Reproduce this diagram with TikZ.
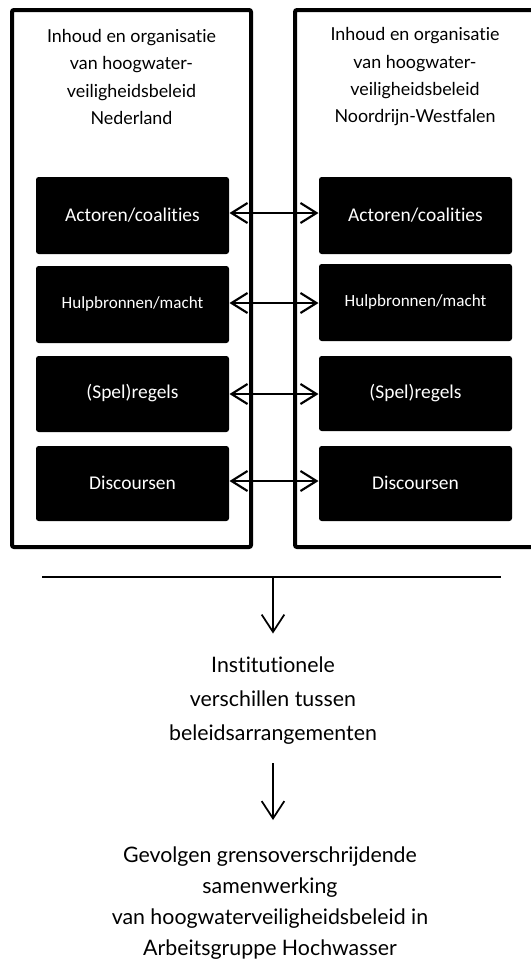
\documentclass[tikz,border=0pt]{standalone}
\usepackage{fontspec}
\setmainfont[Ligatures=NoCommon]{Lato}
\newfontfamily\boxfont[Ligatures=NoCommon]{Carlito}
\usetikzlibrary{arrows.meta}
\begin{document}
\begin{tikzpicture}[x=0.75pt,y=-0.75pt,
  outer/.style={draw=black,line width=3pt,rounded corners=1.5pt},
  blk/.style={fill=black,rounded corners=2pt,inner sep=0pt},
  blktext/.style={text=white,font=\boxfont\fontsize{14.6pt}{17pt}\selectfont},
  ttl/.style={align=center,font=\fontsize{13.4pt}{20.5pt}\selectfont},
  btm/.style={align=center,font=\fontsize{16pt}{25.5pt}\selectfont},
  dbl/.style={line width=1.6pt,{Straight Barb[length=12pt,width=15pt,line width=1.6pt]}-{Straight Barb[length=12pt,width=15pt,line width=1.6pt]}},
  down/.style={line width=1.3pt,-{Straight Barb[length=13pt,width=17pt,line width=1.3pt]}}]
\useasboundingbox (0,0) rectangle (531,960);
\clip (0,0) rectangle (531,960);
\fill[white] (0,0) rectangle (531,960);
% outer frames
\draw[outer] (12,10) rectangle (251,547);
\draw[outer] (295,10) rectangle (545,547);
% titles
\node[ttl] (tl) at (131.5,77) {Inhoud en organisatie\\van hoogwater-\\veiligheidsbeleid\\Nederland};
\node[ttl] (tr) at (415,77) {Inhoud en organisatie\\van hoogwater-\\veiligheidsbeleid\\Noordrijn-Westfalen};
% black boxes
\fill[blk] (36,177) rectangle (229,254);
\fill[blk] (36,266) rectangle (229,343);
\fill[blk] (36,356) rectangle (229,432);
\fill[blk] (36,446) rectangle (229,521);
\fill[blk] (319,177) rectangle (512,254);
\fill[blk] (319,264) rectangle (512,341);
\fill[blk] (319,356) rectangle (512,431);
\fill[blk] (319,446) rectangle (512,521);
\node[blktext] (a1) at (132.5,215) {Actoren/coalities};
\node[blktext,font=\boxfont\fontsize{12.8pt}{15pt}\selectfont] (h1) at (132.5,304) {Hulpbronnen/macht};
\node[blktext] (s1) at (132.5,393) {(Spel)regels};
\node[blktext] (d1) at (132.5,483) {Discoursen};
\node[blktext] (a2) at (415.5,215) {Actoren/coalities};
\node[blktext,font=\boxfont\fontsize{12.8pt}{15pt}\selectfont] (h2) at (415.5,302) {Hulpbronnen/macht};
\node[blktext] (s2) at (415.5,393) {(Spel)regels};
\node[blktext] (d2) at (415.5,483) {Discoursen};
% connection coordinates
\coordinate (aL) at (229.5,213); \coordinate (aR) at (318.5,213);
\coordinate (hL) at (229.5,303); \coordinate (hR) at (318.5,303);
\coordinate (sL) at (229.5,394); \coordinate (sR) at (318.5,394);
\coordinate (dL) at (229.5,481); \coordinate (dR) at (318.5,481);
\draw[dbl] (aL) -- (aR);
\draw[dbl] (hL) -- (hR);
\draw[dbl] (sL) -- (sR);
\draw[dbl] (dL) -- (dR);
% bottom part
\coordinate (lineL) at (42,577); \coordinate (lineR) at (501,577);
\coordinate (lineM) at (273,577);
\draw[line width=1.2pt] (lineL) -- (lineR);
\node[btm] (inst) at (273,701) {Institutionele\\verschillen tussen\\beleidsarrangementen};
\draw[down] (lineM) -- (273,633.5);
\coordinate (arr2top) at (273,763);
\node[btm,font=\fontsize{16pt}{23.4pt}\selectfont] (gev) at (270,903) {Gevolgen grensoverschrijdende\\samenwerking\\van hoogwaterveiligheidsbeleid in\\Arbeitsgruppe Hochwasser};
\draw[down] (arr2top) -- (273,820);
\end{tikzpicture}
\end{document}
